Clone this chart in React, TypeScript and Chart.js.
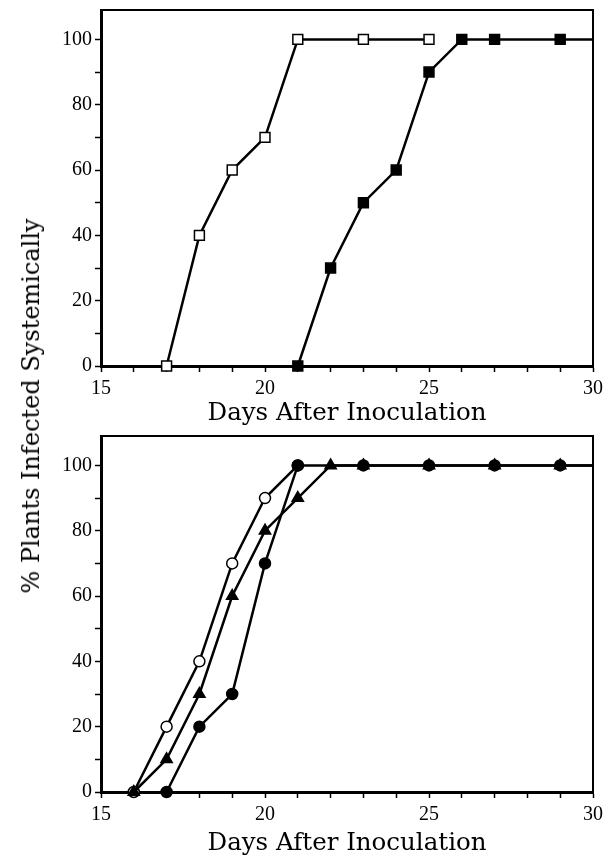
import React, { useEffect, useRef } from "react";
import { Chart, registerables } from "chart.js";

Chart.register(...registerables);

// ---- data ----
const xLabelledTicks = [15, 20, 25, 30];
const yLabelledTicks = [0, 20, 40, 60, 80, 100];

// top panel
const topOpenSquareDays = [17, 18, 19, 20, 21, 23, 25];
const topOpenSquareValues = [0, 40, 60, 70, 100, 100, 100];
const topFilledSquareDays = [21, 22, 23, 24, 25, 26, 27, 29, 30];
const topFilledSquareValues = [0, 30, 50, 60, 90, 100, 100, 100, 100];

// bottom panel
const botOpenCircleDays = [16, 17, 18, 19, 20, 21];
const botOpenCircleValues = [0, 20, 40, 70, 90, 100];
const botTriangleDays = [16, 17, 18, 19, 20, 21, 22, 23, 25, 27, 29, 30];
const botTriangleValues = [0, 10, 30, 60, 80, 90, 100, 100, 100, 100, 100, 100];
const botFilledCircleDays = [17, 18, 19, 20, 21, 23, 25, 27, 29, 30];
const botFilledCircleValues = [0, 20, 30, 70, 100, 100, 100, 100, 100, 100];

const xTitle = "Days After Inoculation";
const yTitle = "% Plants Infected Systemically";

const W = 605;
const H = 428;

const pts = (xs: number[], ys: number[]) => xs.map((x, i) => ({ x, y: ys[i] }));
// no marker on the end point at the right frame (x = 30)
const radii = (xs: number[], r: number) => xs.map((x) => (x >= 30 ? 0 : r));

const framePlugin = {
  id: "frame",
  afterDraw(chart: any) {
    const { ctx, chartArea } = chart;
    const { left, right, top, bottom } = chartArea;
    ctx.save();
    ctx.strokeStyle = "#000";
    ctx.lineWidth = 2;
    ctx.beginPath();
    ctx.moveTo(left, top);
    ctx.lineTo(right, top);
    ctx.lineTo(right, bottom);
    ctx.stroke();
    ctx.restore();
  },
};

function makeDataset(xs: number[], ys: number[], style: string, r: number, filled: boolean) {
  return {
    data: pts(xs, ys),
    borderColor: "#000",
    borderWidth: 2.5,
    tension: 0,
    fill: false,
    clip: false as any,
    pointStyle: style,
    pointRadius: radii(xs, r),
    pointBorderWidth: 1.5,
    pointBorderColor: "#000",
    pointBackgroundColor: filled ? "#000" : "#fff",
  };
}

function buildConfig(datasets: any[], topPad: number, areaBottom: number, titlePad: number): any {
  return {
    type: "line",
    data: { datasets },
    plugins: [framePlugin],
    options: {
      animation: false,
      responsive: false,
      maintainAspectRatio: false,
      layout: { padding: { left: 0, right: W - 593, top: topPad, bottom: 0 } },
      plugins: { legend: { display: false }, tooltip: { enabled: false } },
      scales: {
        x: {
          type: "linear",
          min: 15,
          max: 30,
          afterFit: (s: any) => {
            s.height = H - areaBottom;
            s.paddingLeft = 0;
            s.paddingRight = 0;
          },
          ticks: {
            stepSize: 1,
            autoSkip: false,
            maxRotation: 0,
            padding: 5,
            color: "#000",
            font: { family: "Liberation Serif", size: 20 },
            callback: (v: any) => (xLabelledTicks.includes(Number(v)) ? String(v) : ""),
          },
          grid: {
            display: true,
            drawOnChartArea: false,
            drawTicks: true,
            tickLength: 6,
            tickColor: "#000",
            tickWidth: 1.5,
          },
          border: { display: true, color: "#000", width: 3 },
          title: {
            display: true,
            text: xTitle,
            color: "#000",
            font: { family: "DejaVu Serif", size: 24.5, lineHeight: 1 },
            padding: { top: 0, bottom: titlePad },
          },
        },
        y: {
          type: "linear",
          min: 0,
          max: 109,
          afterBuildTicks: (s: any) => {
            s.ticks = s.ticks.filter((t: any) => t.value <= 100);
          },
          afterFit: (s: any) => {
            s.width = 101;
            s.paddingTop = 0;
            s.paddingBottom = 0;
          },
          ticks: {
            stepSize: 10,
            autoSkip: false,
            padding: 3,
            color: "#000",
            font: { family: "Liberation Serif", size: 20 },
            callback: (v: any) => (yLabelledTicks.includes(Number(v)) ? String(v) : ""),
          },
          grid: {
            display: true,
            drawOnChartArea: false,
            drawTicks: true,
            tickLength: 6,
            tickColor: "#000",
            tickWidth: 1.5,
          },
          border: { display: true, color: "#000", width: 3 },
        },
      },
    },
  };
}

function Panel({ datasets, topPad, areaBottom, titlePad }: any) {
  const ref = useRef<HTMLCanvasElement | null>(null);
  useEffect(() => {
    if (!ref.current) return;
    const chart = new Chart(ref.current, buildConfig(datasets, topPad, areaBottom, titlePad));
    return () => chart.destroy();
  }, []);
  return <canvas ref={ref} width={W} height={H} style={{ display: "block", width: W, height: H }} />;
}

export default function App() {
  const topSets = [
    makeDataset(topOpenSquareDays, topOpenSquareValues, "rect", 7, false),
    makeDataset(topFilledSquareDays, topFilledSquareValues, "rect", 7, true),
  ];
  const botSets = [
    makeDataset(botFilledCircleDays, botFilledCircleValues, "circle", 5.5, true),
    makeDataset(botTriangleDays, botTriangleValues, "triangle", 6.5, true),
    makeDataset(botOpenCircleDays, botOpenCircleValues, "circle", 5.5, false),
  ];
  return (
    <div style={{ position: "absolute", left: 0, top: 0, width: W, height: 856, background: "#fff" }}>
      <Panel datasets={topSets} topPad={10} areaBottom={366} titlePad={2.5} />
      <Panel datasets={botSets} topPad={5} areaBottom={364} titlePad={0} />
      <div
        style={{
          position: "absolute",
          left: 31,
          top: 406,
          transform: "translate(-50%, -50%) rotate(-90deg)",
          whiteSpace: "nowrap",
          fontFamily: "DejaVu Serif",
          fontSize: 24,
          lineHeight: 1,
          color: "#000",
        }}
      >
        {yTitle}
      </div>
    </div>
  );
}
